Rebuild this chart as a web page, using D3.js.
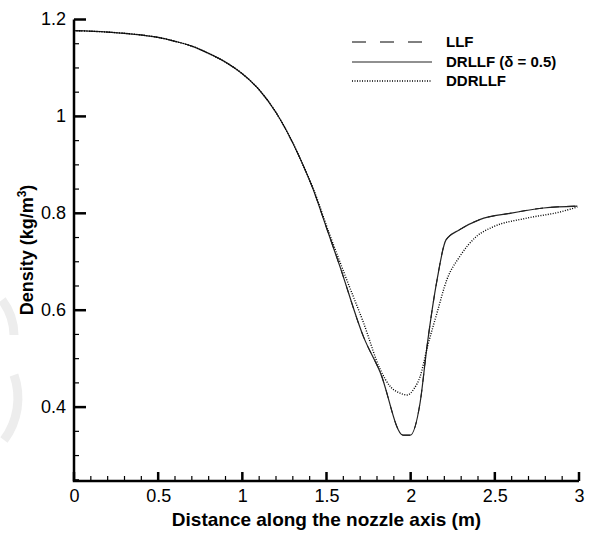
<!DOCTYPE html>
<html>
<head>
<meta charset="utf-8">
<script src="https://cdn.jsdelivr.net/npm/d3@7"></script>
<style>
  body { margin: 0; background: #fff; overflow: hidden; }
  svg { display: block; }
  svg text { font-family: "Liberation Sans", Arial, sans-serif; fill: #000; }
</style>
</head>
<body>
<svg id="chart"></svg>
<script>
const w = 594;
const h = 534;

// distance along axis (m) and density (kg/m^3)
const xLLF    = [0, 0.2, 0.4, 0.5, 0.6, 0.7, 0.8, 0.9, 1.0, 1.1, 1.2, 1.3, 1.36, 1.42, 1.5, 1.58, 1.72, 1.82, 1.955, 1.997, 2.056, 2.097, 2.157, 2.21, 2.29, 2.41, 2.59, 2.79, 2.99];
const yLLF    = [1.177, 1.174, 1.168, 1.163, 1.155, 1.145, 1.13, 1.112, 1.088, 1.055, 1.008, 0.945, 0.9, 0.85, 0.77, 0.69, 0.545, 0.471, 0.342, 0.342, 0.409, 0.525, 0.663, 0.745, 0.766, 0.787, 0.80, 0.811, 0.815];
const xDRLLF  = xLLF;
const yDRLLF  = yLLF;
const xDDRLLF = [0, 0.2, 0.4, 0.5, 0.6, 0.7, 0.8, 0.9, 1.0, 1.1, 1.2, 1.3, 1.36, 1.42, 1.52, 1.62, 1.72, 1.82, 1.88, 1.937, 1.98, 2.02, 2.056, 2.1, 2.157, 2.215, 2.29, 2.39, 2.49, 2.69, 2.89, 2.99];
const yDDRLLF = [1.177, 1.174, 1.168, 1.163, 1.155, 1.145, 1.13, 1.112, 1.088, 1.055, 1.008, 0.945, 0.9, 0.852, 0.755, 0.663, 0.574, 0.477, 0.442, 0.429, 0.425, 0.438, 0.463, 0.525, 0.595, 0.663, 0.71, 0.752, 0.772, 0.79, 0.803, 0.813];

const xTicks = [0, 0.5, 1, 1.5, 2, 2.5, 3];
const yTicks = [0.4, 0.6, 0.8, 1, 1.2];
const seriesNames = ['LLF', 'DRLLF (\u03b4 = 0.5)', 'DDRLLF'];

const margin = {top: 19.5, left: 74};
const innerWidth = 579 - margin.left;
const innerHeight = 481 - margin.top;

const svg = d3.select('#chart')
    .attr('width', w)
    .attr('height', h);

// faint watermark on the left edge
svg.append('path')
    .attr('d', 'M 2 300 A 60 60 0 0 1 14 335')
    .attr('fill', 'none').attr('stroke', '#ededed').attr('stroke-width', 9);
svg.append('path')
    .attr('d', 'M 14 375 A 70 70 0 0 1 4 440')
    .attr('fill', 'none').attr('stroke', '#ededed').attr('stroke-width', 9);

const g = svg.append('g')
    .attr('transform', `translate(${margin.left}, ${margin.top})`);

const xScale = d3.scaleLinear().domain([0, 3]).range([0, innerWidth]);
const yScale = d3.scaleLinear().domain([0.2475, 1.2]).range([innerHeight, 0]);

const xMinor = d3.range(1, 30).map(i => i / 10).filter((v, i) => (i + 1) % 5 !== 0);
const yMinor = d3.range(5, 24).map(i => i / 20).filter(v => Math.abs(v * 5 - Math.round(v * 5)) > 1e-6);

const xAxis = d3.axisBottom(xScale).tickValues(xTicks).tickSize(0).tickPadding(8).tickFormat(d3.format(''));
const yAxis = d3.axisLeft(yScale).tickValues(yTicks).tickSize(0).tickPadding(8).tickFormat(d3.format(''));

const xAxisG = g.append('g')
    .attr('transform', `translate(0,${innerHeight})`)
    .call(xAxis);
xAxisG.select('.domain').remove();
xAxisG.selectAll('text').attr('font-size', 18);

const yAxisG = g.append('g').call(yAxis);
yAxisG.select('.domain').remove();
yAxisG.selectAll('text').attr('font-size', 18).attr('dy', '0.3em');

// tick marks pointing inward
const ticksG = g.append('g').attr('stroke', '#000');
ticksG.selectAll('.xmaj').data(xTicks).enter().append('line')
    .attr('x1', d => xScale(d)).attr('x2', d => xScale(d))
    .attr('y1', innerHeight).attr('y2', innerHeight - 9)
    .attr('stroke-width', 2.5);
ticksG.selectAll('.xmin').data(xMinor).enter().append('line')
    .attr('x1', d => xScale(d)).attr('x2', d => xScale(d))
    .attr('y1', innerHeight).attr('y2', innerHeight - 5)
    .attr('stroke-width', 1.2);
ticksG.selectAll('.ymaj').data(yTicks).enter().append('line')
    .attr('x1', 0).attr('x2', 12)
    .attr('y1', d => yScale(d)).attr('y2', d => yScale(d))
    .attr('stroke-width', 2.5);
ticksG.selectAll('.ymin').data(yMinor).enter().append('line')
    .attr('x1', 0).attr('x2', 5)
    .attr('y1', d => yScale(d)).attr('y2', d => yScale(d))
    .attr('stroke-width', 1.2);

// axis frame lines
g.append('path')
    .attr('d', `M0,0 V${innerHeight} H${innerWidth}`)
    .attr('fill', 'none')
    .attr('stroke', '#000')
    .attr('stroke-width', 2.5);

g.append('text')
    .attr('y', -41)
    .attr('x', -(250 - margin.top))
    .attr('transform', 'rotate(-90)')
    .attr('text-anchor', 'middle')
    .attr('font-size', 18)
    .attr('font-weight', 'bold')
    .html('Density (kg/m<tspan dy="-7" font-size="12">3</tspan><tspan dy="7">)</tspan>');

g.append('text')
    .attr('y', innerHeight + 45)
    .attr('x', innerWidth / 2)
    .attr('text-anchor', 'middle')
    .attr('font-size', 19)
    .attr('font-weight', 'bold')
    .text('Distance along the nozzle axis (m)');

const line = d3.line()
    .curve(d3.curveMonotoneX)
    .x(d => xScale(d[0]))
    .y(d => yScale(d[1]));

const series = [
    {x: xLLF, y: yLLF, dash: '8,8', color: '#000', width: 1},
    {x: xDRLLF, y: yDRLLF, dash: null, color: '#222', width: 1.2},
    {x: xDDRLLF, y: yDDRLLF, dash: '1,1.5', color: '#000', width: 1.4}
];

series.forEach(s => {
    g.append('path')
        .datum(d3.zip(s.x, s.y))
        .attr('d', line)
        .attr('fill', 'none')
        .attr('stroke', s.color)
        .attr('stroke-width', s.width)
        .attr('stroke-dasharray', s.dash);
});

// legend
const legend = svg.append('g');
const legY = [42, 62, 81];
series.forEach((s, i) => {
    legend.append('line')
        .attr('x1', 352).attr('x2', 432)
        .attr('y1', legY[i]).attr('y2', legY[i])
        .attr('stroke', s.color)
        .attr('stroke-width', s.width)
        .attr('stroke-dasharray', i === 0 ? '14,14' : s.dash);
    legend.append('text')
        .attr('x', 446)
        .attr('y', legY[i] + 5)
        .attr('font-size', 15)
        .attr('font-weight', 'bold')
        .text(seriesNames[i]);
});
</script>
</body>
</html>
